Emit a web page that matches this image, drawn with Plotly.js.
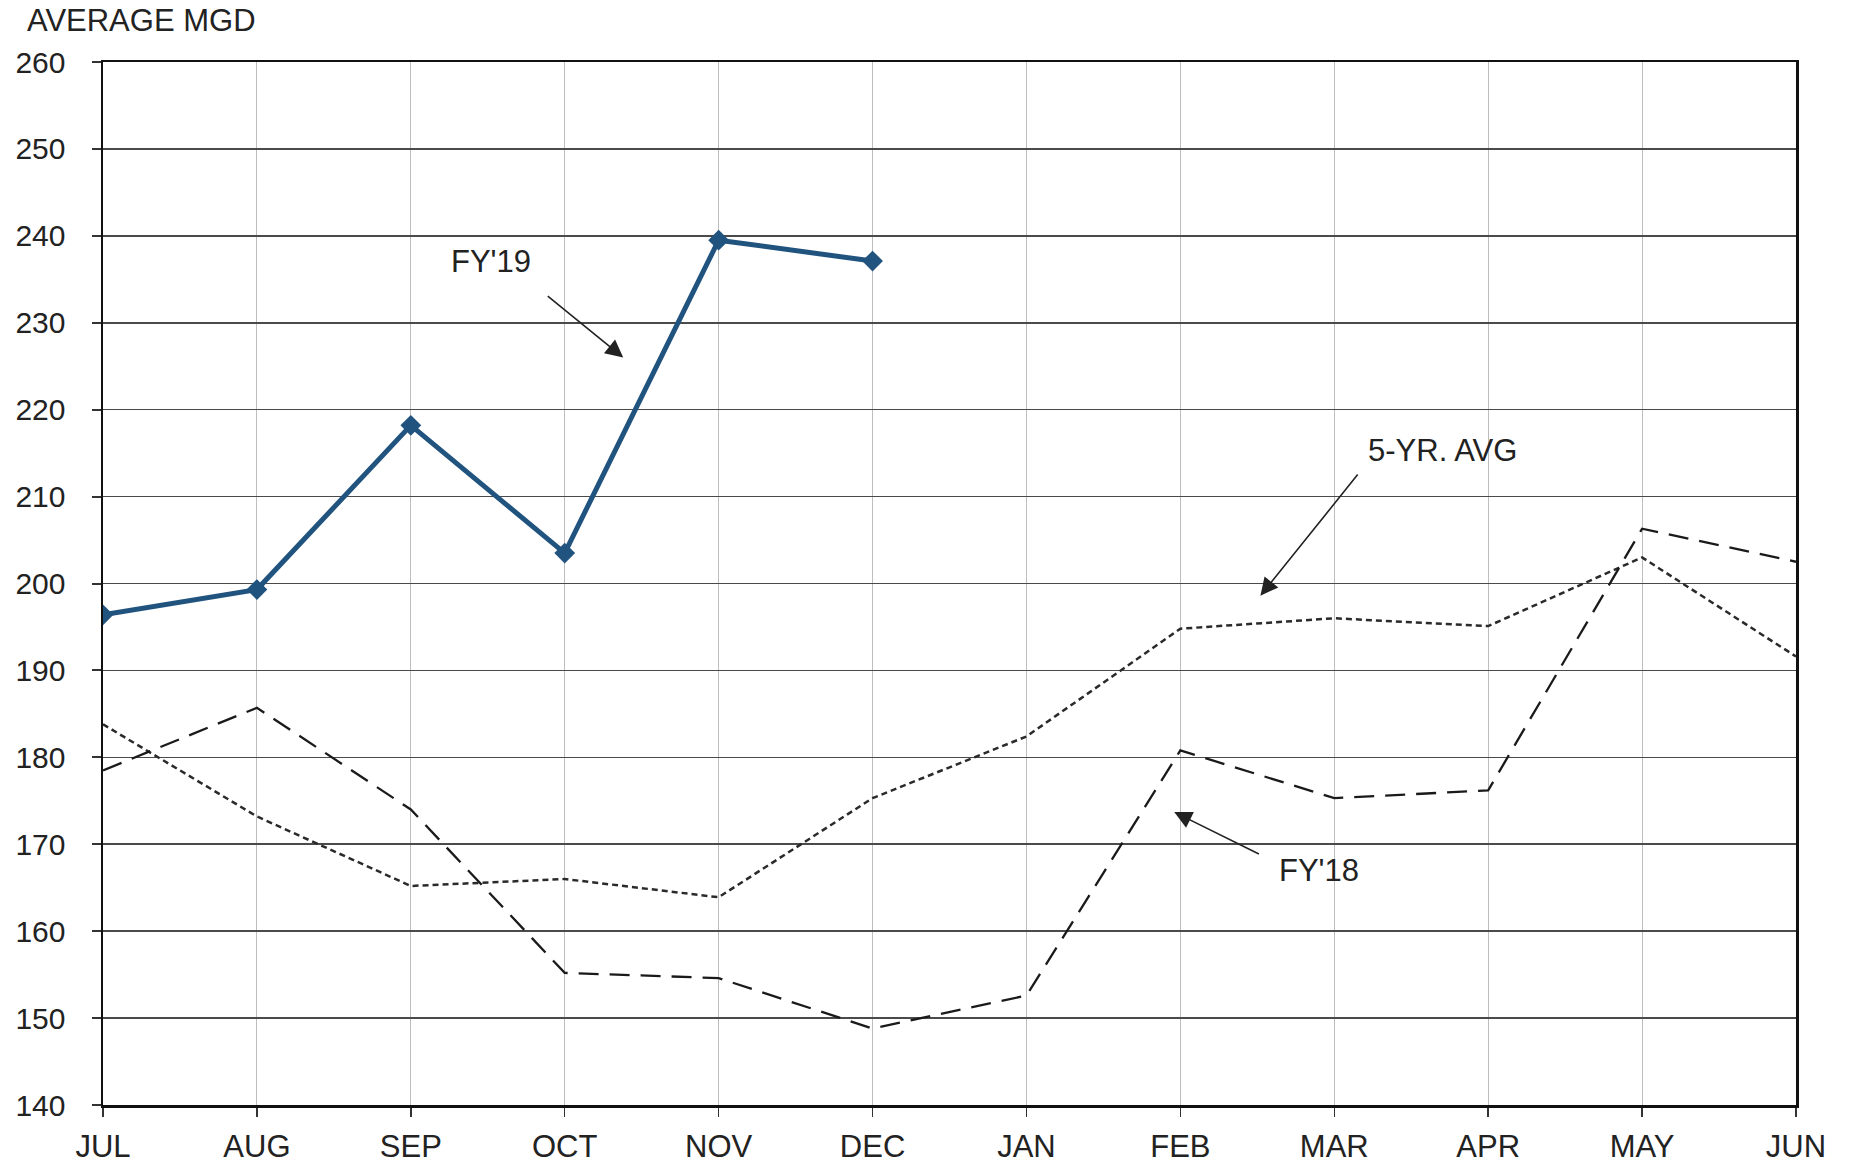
<!DOCTYPE html>
<html>
<head>
<meta charset="utf-8">
<script src="https://cdn.plot.ly/plotly-3.0.1.min.js"></script>
<style>
  html, body { margin: 0; padding: 0; background: #ffffff; }
  #chart { width: 1850px; height: 1170px; }
</style>
</head>
<body>
<div id="chart"></div>
<script>
const months = ["JUL","AUG","SEP","OCT","NOV","DEC","JAN","FEB","MAR","APR","MAY","JUN"];
const fy19Months = ["JUL","AUG","SEP","OCT","NOV","DEC"];
const fy19 = [196.4, 199.3, 218.2, 203.5, 239.5, 237.1];
const fy18 = [178.5, 185.7, 174.0, 155.2, 154.6, 148.8, 152.6, 180.8, 175.3, 176.2, 206.3, 202.5];
const avg5yr = [183.8, 173.2, 165.2, 166.0, 163.9, 175.3, 182.4, 194.8, 196.0, 195.1, 203.0, 191.6];
const yTicks = [140, 150, 160, 170, 180, 190, 200, 210, 220, 230, 240, 250, 260];

const FONT = "Liberation Sans, Arial, sans-serif";

const traces = [
  {
    x: months, y: avg5yr, type: "scatter", mode: "lines", name: "5-YR. AVG",
    line: { color: "#2a2a2a", width: 2.5, dash: "6px,4px" }
  },
  {
    x: months, y: fy18, type: "scatter", mode: "lines", name: "FY'18",
    line: { color: "#1a1a1a", width: 2.3, dash: "20px,11px" }
  },
  {
    x: fy19Months, y: fy19, type: "scatter", mode: "lines+markers", name: "FY'19",
    line: { color: "#21537f", width: 5 },
    marker: { symbol: "diamond", size: 16, color: "#21537f" }
  }
];

const layout = {
  width: 1850, height: 1170,
  margin: { l: 103, r: 54, t: 62, b: 65 },
  paper_bgcolor: "#ffffff", plot_bgcolor: "#ffffff",
  showlegend: false,
  font: { family: FONT, color: "#222222", size: 30 },
  xaxis: {
    type: "category",
    categoryorder: "array", categoryarray: months,
    range: [0, 11],
    showgrid: true, gridcolor: "#bdbdbd", gridwidth: 1,
    showline: true, linecolor: "#111111", linewidth: 2.5, mirror: true,
    ticks: "outside", ticklen: 9, tickwidth: 1.5, tickcolor: "#333333",
    ticklabelstandoff: 3,
    tickfont: { family: FONT, size: 31, color: "#222222" },
    zeroline: false, fixedrange: true
  },
  yaxis: {
    range: [140, 260],
    tickvals: yTicks,
    showgrid: true, gridcolor: "#4a4a4a", gridwidth: 1.6,
    showline: true, linecolor: "#111111", linewidth: 2.5, mirror: true,
    ticks: "outside", ticklen: 9, tickwidth: 2, tickcolor: "#333333",
    ticklabelstandoff: 20,
    tickfont: { family: FONT, size: 30, color: "#222222" },
    zeroline: false, fixedrange: true
  },
  annotations: [
    { xref: "paper", yref: "paper", x: -0.046, y: 1.04, xanchor: "left", yanchor: "middle",
      text: "AVERAGE MGD", showarrow: false, font: { family: FONT, size: 31, color: "#222222" } },
    { xref: "x", yref: "y", x: 2.52, y: 237, text: "FY'19", showarrow: false,
      font: { family: FONT, size: 31, color: "#222222" } },
    { xref: "x", yref: "y", x: 3.38, y: 226, axref: "x", ayref: "y", ax: 2.88, ay: 233.2,
      text: "", showarrow: true, arrowhead: 2, arrowsize: 2.2, arrowwidth: 1.6, arrowcolor: "#222222", standoff: 0 },
    { xref: "x", yref: "y", x: 8.70, y: 215.3, text: "5-YR. AVG", showarrow: false,
      font: { family: FONT, size: 31, color: "#222222" } },
    { xref: "x", yref: "y", x: 7.52, y: 198.6, axref: "x", ayref: "y", ax: 8.16, ay: 212.7,
      text: "", showarrow: true, arrowhead: 2, arrowsize: 2.2, arrowwidth: 1.6, arrowcolor: "#222222", standoff: 0 },
    { xref: "x", yref: "y", x: 7.90, y: 167, text: "FY'18", showarrow: false,
      font: { family: FONT, size: 31, color: "#222222" } },
    { xref: "x", yref: "y", x: 6.96, y: 173.7, axref: "x", ayref: "y", ax: 7.52, ay: 168.8,
      text: "", showarrow: true, arrowhead: 2, arrowsize: 2.2, arrowwidth: 1.6, arrowcolor: "#222222", standoff: 0 }
  ]
};

Plotly.newPlot("chart", traces, layout, { staticPlot: true, displayModeBar: false });
</script>
</body>
</html>
